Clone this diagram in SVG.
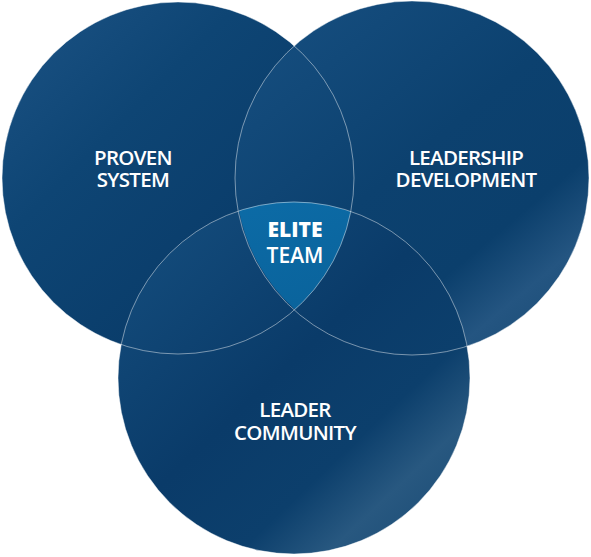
<svg xmlns="http://www.w3.org/2000/svg" width="591" height="557" viewBox="0 0 591 557">
<style>
.lbl{font-family:"Open Sans",Lato,"Liberation Sans",sans-serif;font-size:20.5px;font-weight:600;letter-spacing:-0.7px;fill:#ffffff;text-anchor:middle;}
.core{font-size:21px;letter-spacing:0px;}
.ring{fill:none;stroke:#ffffff;stroke-opacity:0.45;stroke-width:1;}
</style>
<defs>
<linearGradient id="gL" x1="0.1" y1="0.1" x2="0.9" y2="0.9">
<stop offset="0" stop-color="#184f80"/>
<stop offset="0.3" stop-color="#0e4574"/>
<stop offset="0.7" stop-color="#0a3d6b"/>
<stop offset="1" stop-color="#0c3f6c"/>
</linearGradient>
<linearGradient id="gR" x1="0.15" y1="0.05" x2="0.9" y2="0.95">
<stop offset="0" stop-color="#154d7e"/>
<stop offset="0.45" stop-color="#0c416f"/>
<stop offset="0.72" stop-color="#0b3f6c"/>
<stop offset="0.87" stop-color="#245581"/>
<stop offset="1" stop-color="#1b4d78"/>
</linearGradient>
<linearGradient id="gB" x1="0.1" y1="0.1" x2="0.9" y2="0.95">
<stop offset="0" stop-color="#134b7b"/>
<stop offset="0.45" stop-color="#0a3b69"/>
<stop offset="0.7" stop-color="#0c3f6c"/>
<stop offset="0.85" stop-color="#285880"/>
<stop offset="1" stop-color="#1c4d77"/>
</linearGradient>
<linearGradient id="gE" x1="0" y1="0" x2="0.3" y2="1">
<stop offset="0" stop-color="#0c6ba6"/>
<stop offset="1" stop-color="#0a649d"/>
</linearGradient>
</defs>
<g id="circles">
<g id="node-proven-system"><circle cx="178" cy="178" r="176" fill="url(#gL)"/></g>
<g id="node-leadership-development"><circle cx="412" cy="178" r="177" fill="url(#gR)"/></g>
<g id="node-leader-community"><circle cx="294" cy="378" r="176" fill="url(#gB)"/></g>
</g>
<g id="node-elite-team">
<path d="M239.1 210.8 A176 176 0 0 1 350.8 211.4 A176 176 0 0 1 295 309.5 A177 177 0 0 1 239.1 210.8 Z" fill="url(#gE)"/>
</g>
<g id="outlines">
<circle class="ring" cx="178" cy="178" r="176"/>
<circle class="ring" cx="412" cy="178" r="177"/>
<circle class="ring" cx="294" cy="378" r="176"/>
</g>
<g id="labels">
<text class="lbl" x="133" y="165">PROVEN</text>
<text class="lbl" x="133" y="187">SYSTEM</text>
<text class="lbl" x="466" y="165">LEADERSHIP</text>
<text class="lbl" x="466" y="187">DEVELOPMENT</text>
<text class="lbl" x="295" y="417">LEADER</text>
<text class="lbl" x="295" y="440">COMMUNITY</text>
<text class="lbl core" x="295" y="237" style="font-weight:800">ELITE</text>
<text class="lbl core" x="295" y="263">TEAM</text>
</g>
</svg>
